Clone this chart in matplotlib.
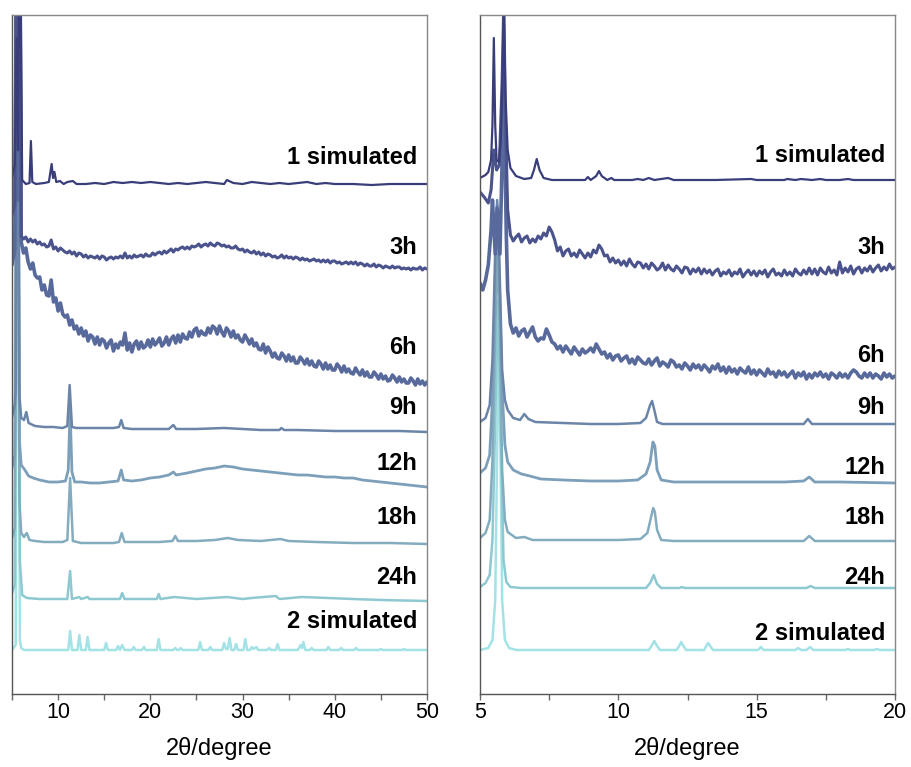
import matplotlib
matplotlib.use("Agg")
import numpy as np
import matplotlib.pyplot as plt
from matplotlib.ticker import MultipleLocator

plt.rcParams['font.family'] = ['Liberation Sans', 'DejaVu Sans']

labels = ["1 simulated", "3h", "6h", "9h", "12h", "18h", "24h", "2 simulated"]
colors = ["#393e7a", "#4a538c", "#58699b", "#6b85a9", "#7c9fba", "#84acbf", "#8ec9d1", "#a3e3e6"]
widths = [1.6, 2.2, 2.6, 1.8, 2.0, 1.8, 1.8, 1.8]

# ---------------- LEFT PANEL (2theta 5-50), stacked intensity (a.u.) ----------------
L1_x = [5.0, 5.3, 5.5, 5.65, 5.85, 6.1, 6.5, 6.9, 7.05, 7.2, 7.6, 8.5, 9.0, 9.3, 9.45, 9.6, 9.8, 10.2, 10.6,
        11.0, 11.6, 12, 13, 14, 15, 16, 17, 18, 19, 20, 21, 22, 23, 24, 25, 26, 27, 28, 28.3, 29, 30, 31, 32,
        33, 34, 35, 36, 37, 38, 39, 40, 42, 44, 46, 48, 50]
L1_y = [516, 529, 656, 544, 800, 514, 510, 511, 553, 512, 510, 511, 512, 530, 516, 522, 512, 513, 510,
        512, 513, 510, 510, 511, 510, 512, 511, 512, 511, 512, 511, 510, 511, 510, 511, 512, 511, 510, 514, 511,
        510, 512, 511, 510, 511, 510, 511, 512, 510, 511, 510, 510, 509, 510, 510, 510]

# 3h (left): peak region, then readings every 0.25 deg from 6.0 to 49.75, then 50
L3_head_x = [5.0, 5.3, 5.5, 5.7, 5.85]
L3_head_y = [479, 489, 800, 544, 800]
L3_rows = [
    [458, 455, 457, 452], [455, 452, 454, 450], [452, 449, 450, 447], [448, 454, 445, 447],
    [443, 446, 444, 442], [441, 443, 440, 442], [438, 441, 440, 437], [439, 436, 438, 437],
    [436, 438, 435, 438], [437, 434, 436, 437], [435, 437, 436, 438], [436, 441, 436, 438],
    [436, 439, 437, 438], [439, 437, 440, 438], [438, 441, 439, 441], [442, 440, 443, 441],
    [443, 445, 442, 445], [444, 446, 447, 445], [447, 445, 448, 447], [448, 450, 447, 449],
    [450, 448, 451, 449], [448, 451, 450, 448], [449, 447, 448, 446], [446, 448, 445, 444],
    [445, 442, 444, 442], [441, 443, 440, 442], [439, 441, 438, 440], [439, 437, 438, 436],
    [437, 439, 436, 438], [436, 437, 435, 437], [436, 434, 436, 434], [435, 433, 434, 435],
    [433, 434, 432, 434], [432, 434, 431, 433], [433, 431, 432, 430], [431, 432, 430, 432],
    [430, 432, 429, 431], [430, 428, 430, 428], [428, 430, 427, 429], [428, 426, 428, 427],
    [426, 428, 426, 427], [427, 425, 426, 425], [426, 424, 426, 425], [425, 427, 424, 426]]
L3_tail_y = 425

# 6h (left)
L6_head_x = [5.0, 5.3, 5.5, 5.7, 5.85]
L6_head_y = [429, 444, 800, 494, 800]
L6_rows = [
    [452, 441, 446, 432], [425, 431, 419, 416], [417, 404, 409, 399], [398, 414, 392, 396],
    [383, 391, 380, 377], [379, 369, 374, 365], [368, 360, 366, 358], [363, 353, 359, 357],
    [350, 357, 349, 355], [353, 346, 351, 354], [343, 350, 346, 352], [349, 361, 344, 351],
    [342, 350, 353, 345], [352, 346, 348, 354], [347, 355, 349, 352], [356, 348, 351, 357],
    [349, 355, 358, 351], [359, 352, 360, 356], [355, 362, 357, 364], [366, 358, 363, 360],
    [359, 366, 361, 368], [366, 360, 368, 362], [358, 366, 363, 357], [363, 356, 359, 354],
    [352, 359, 355, 350], [355, 348, 351, 345], [344, 350, 341, 347], [343, 337, 341, 336],
    [335, 341, 338, 333], [339, 333, 337, 331], [331, 337, 334, 330], [335, 329, 333, 328],
    [327, 333, 330, 325], [331, 325, 329, 324], [324, 330, 327, 322], [328, 322, 325, 321],
    [320, 326, 322, 319], [324, 318, 322, 317], [317, 322, 319, 315], [320, 315, 318, 313],
    [314, 319, 316, 312], [317, 312, 315, 311], [311, 316, 313, 309], [315, 310, 313, 309]]
L6_tail_y = 312

L9_x = [5.0, 5.3, 5.4, 5.6, 5.8, 6.0, 6.3, 6.55, 6.8, 7.5, 8.5, 9.5, 10.5, 11.0, 11.25, 11.5, 12, 14, 16,
        16.6, 16.85, 17.1, 18, 20, 22, 22.5, 22.8, 25, 28, 30, 32, 34, 34.2, 34.5, 36, 40, 44, 47, 50]
L9_y = [277, 289, 304, 800, 299, 276, 274, 282, 271, 268, 267, 267, 266, 268, 309, 267, 266, 266, 266,
        267, 274, 266, 265, 265, 265, 269, 265, 265, 266, 265, 264, 264, 266, 264, 264, 263, 263, 263, 262]

L12_x = [5.0, 5.3, 5.6, 5.8, 6.0, 6.4, 6.8, 7.3, 8, 9, 10, 10.8, 11.1, 11.3, 11.5, 11.8, 12.5, 13.5, 14.5,
         15.5, 16.5, 16.85, 17.1, 18, 19, 20, 21, 22, 22.5, 22.8, 24, 25, 26, 27, 28, 29, 30, 31, 32, 33, 34,
         35, 36, 37, 38, 39, 40, 41, 42, 43, 44, 45, 46, 47, 48, 49, 50]
L12_y = [226, 239, 800, 254, 229, 224, 218, 216, 214, 212, 212, 213, 224, 284, 222, 212, 212, 211, 211,
         212, 213, 224, 214, 213, 214, 216, 217, 219, 222, 219, 221, 223, 225, 226, 228, 227, 225, 224, 223,
         222, 221, 220, 219, 219, 218, 217, 217, 216, 216, 214, 213, 212, 211, 210, 209, 208, 207]

L18_x = [5.0, 5.3, 5.6, 5.8, 6.0, 6.3, 6.6, 6.9, 7.5, 8.5, 9.5, 10.5, 11.0, 11.3, 11.6, 12.5, 14, 16, 16.6,
         16.9, 17.2, 19, 21, 22.4, 22.7, 23, 25, 27, 28.4, 29.5, 32, 34.1, 35, 38, 42, 46, 50]
L18_y = [156, 166, 800, 194, 161, 157, 161, 154, 153, 152, 152, 152, 154, 216, 153, 151, 151, 151, 152,
         161, 152, 152, 152, 153, 158, 153, 153, 154, 156, 154, 153, 155, 153, 152, 151, 151, 150]

L24_x = [5.0, 5.3, 5.65, 5.85, 6.1, 6.6, 8, 10, 11.0, 11.3, 11.5, 12.3, 12.5, 13.2, 13.4, 16.7, 16.95, 17.2,
         20.7, 20.9, 21.1, 22.6, 25, 28.3, 30, 31, 33.6, 34, 36.4, 39.3, 42, 45, 50]
L24_y = [101, 109, 800, 134, 99, 96, 95, 95, 95, 123, 95, 97, 95, 97, 95, 95, 101, 95,
         95, 100, 95, 97, 95, 97, 95, 96, 98, 95, 97, 96, 95, 94, 93]

L2_x = [5.0, 5.4, 5.6, 5.85, 6.0, 6.3, 11.1, 11.3, 11.5, 12.1, 12.3, 12.5, 13.0, 13.2, 13.4, 15.0, 15.2, 15.4,
        16.3, 16.5, 16.7, 16.95, 17.2, 18.0, 18.2, 18.4, 19.1, 19.3, 19.5, 20.7, 20.9, 21.1, 22.5, 22.7, 22.9,
        23.1, 23.3, 23.5, 25.2, 25.4, 25.6, 26.3, 26.5, 26.7, 27.8, 28.0, 28.2, 28.4, 28.6, 28.8, 29.1, 29.3,
        29.5, 30.1, 30.3, 30.5, 30.8, 31.0, 31.2, 31.5, 31.7, 32.7, 32.9, 33.1, 33.6, 33.8, 34.0, 36.0, 36.3,
        36.45, 36.6, 36.8, 37.3, 37.5, 37.7, 39.1, 39.3, 39.5, 40.5, 40.7, 40.9, 42.1, 42.3, 42.5, 44.8, 45.0,
        45.2, 47.3, 47.5, 47.7, 50]
L2_y = [44, 49, 800, 54, 46, 44, 44, 63, 44, 44, 59, 44, 44, 57, 44, 44, 51, 44,
        44, 48, 44, 49, 44, 44, 47, 44, 44, 47, 44, 44, 55, 44, 44, 46, 44,
        44, 46, 44, 44, 52, 44, 44, 47, 44, 44, 51, 45, 45, 56, 44, 44, 50,
        44, 44, 55, 44, 44, 47, 45, 47, 44, 44, 46, 44, 44, 50, 44, 44, 49,
        46, 52, 44, 44, 46, 44, 44, 47, 44, 44, 46, 44, 44, 46, 44, 44, 45,
        44, 44, 45, 44, 44]

# ---------------- RIGHT PANEL (2theta 5-20), stacked intensity (a.u.) ----------------
R1_x = [5.0, 5.2, 5.3, 5.4, 5.45, 5.5, 5.55, 5.6, 5.68, 5.75, 5.8, 5.86, 5.92, 6.0, 6.1, 6.3, 6.6, 6.85, 6.95,
        7.05, 7.15, 7.3, 7.6, 8.0, 8.8, 8.9, 9.0, 9.2, 9.3, 9.4, 9.6, 9.75, 9.85, 10.5, 10.7, 10.9, 11.1, 11.3,
        11.8, 12.0, 13.5, 14.8, 15.0, 16.0, 16.1, 16.4, 16.6, 17.0, 17.3, 17.5, 18.0, 18.3, 18.5, 19.5, 20]
R1_y = [516, 519, 522, 534, 569, 656, 569, 534, 532, 554, 599, 690, 599, 544, 526, 518, 515, 516, 524,
        535, 524, 516, 514, 514, 514, 517, 514, 518, 523, 518, 514, 516, 514, 514, 515, 514, 516, 514,
        516, 514, 514, 515, 514, 514, 515, 514, 515, 514, 515, 514, 514, 515, 514, 514, 514]

# 3h (right): peak region, then readings every 0.1 deg from 6.0 to 19.9, then 20
R3_head_x = [5.0, 5.15, 5.3, 5.4, 5.5, 5.6, 5.7, 5.8, 5.86, 5.92]
R3_head_y = [502, 497, 491, 504, 544, 524, 529, 614, 690, 574]
R3_rows = [
    [484, 459, 453, 457, 460, 452, 456, 458, 451, 455],
    [452, 458, 455, 461, 458, 467, 462, 454, 443, 447],
    [438, 443, 445, 438, 441, 437, 444, 440, 436, 441],
    [437, 444, 441, 449, 445, 438, 439, 432, 436, 431],
    [434, 429, 433, 428, 435, 430, 427, 432, 431, 426],
    [430, 425, 431, 428, 424, 426, 431, 424, 429, 425],
    [423, 428, 425, 421, 427, 426, 420, 425, 422, 426],
    [420, 425, 421, 424, 419, 423, 425, 418, 422, 420],
    [424, 418, 422, 420, 425, 417, 421, 424, 419, 423],
    [418, 423, 420, 424, 417, 422, 425, 419, 421, 418],
    [424, 419, 422, 418, 425, 421, 419, 424, 420, 426],
    [420, 425, 419, 426, 422, 420, 427, 421, 424, 419],
    [432, 421, 426, 422, 428, 420, 425, 427, 421, 426],
    [423, 428, 422, 426, 429, 423, 427, 424, 430, 425]]
R3_tail_y = 427

# 6h (right)
R6_head_x = [5.0, 5.1, 5.2, 5.3, 5.4, 5.45, 5.55, 5.62, 5.72, 5.86, 5.95]
R6_head_y = [411, 404, 414, 429, 464, 494, 440, 486, 440, 604, 460]
R6_rows = [
    [404, 370, 361, 366, 358, 363, 365, 357, 362, 367],
    [357, 353, 356, 355, 365, 359, 352, 350, 345, 348],
    [342, 348, 344, 340, 347, 343, 339, 345, 341, 343],
    [346, 342, 350, 345, 340, 342, 336, 340, 334, 338],
    [339, 333, 336, 338, 331, 335, 330, 337, 334, 331],
    [330, 335, 329, 333, 336, 328, 332, 330, 327, 334],
    [332, 327, 329, 325, 331, 328, 324, 330, 326, 329],
    [324, 329, 326, 322, 328, 325, 330, 323, 327, 321],
    [327, 322, 325, 320, 326, 323, 321, 327, 320, 324],
    [319, 324, 321, 318, 325, 320, 322, 317, 323, 319],
    [322, 317, 320, 323, 316, 321, 318, 322, 315, 320],
    [316, 321, 318, 322, 317, 320, 315, 321, 319, 316],
    [321, 317, 320, 316, 321, 324, 322, 318, 316, 321],
    [317, 321, 316, 320, 318, 315, 321, 317, 320, 316]]
R6_tail_y = 318

R9_x = [5.0, 5.2, 5.35, 5.45, 5.55, 5.62, 5.7, 5.8, 5.9, 6.0, 6.2, 6.45, 6.6, 6.75, 7.0, 8.0, 9.0, 10.0, 10.8,
        11.0, 11.15, 11.22, 11.3, 11.4, 11.6, 13, 15, 16.7, 16.85, 17.0, 18, 20]
R9_y = [272, 276, 289, 334, 444, 494, 434, 324, 294, 284, 276, 274, 280, 275, 272, 271, 270, 270, 271,
        276, 289, 293, 284, 272, 270, 270, 270, 270, 275, 270, 270, 270]

R12_x = [5.0, 5.2, 5.35, 5.45, 5.55, 5.62, 5.7, 5.8, 5.9, 6.0, 6.2, 6.5, 6.8, 7.2, 8, 9, 10, 10.7, 11.0,
         11.15, 11.25, 11.32, 11.4, 11.55, 12, 14, 16, 16.7, 16.9, 17.1, 18, 20]
R12_y = [221, 226, 239, 294, 414, 489, 414, 304, 249, 232, 224, 220, 218, 215, 214, 213, 213, 214, 220,
         232, 252, 248, 224, 214, 212, 212, 212, 213, 217, 212, 212, 211]

R18_x = [5.0, 5.2, 5.35, 5.45, 5.55, 5.65, 5.72, 5.8, 5.9, 6.0, 6.3, 6.6, 6.9, 8, 10, 10.8, 11.05, 11.2,
         11.26, 11.32, 11.4, 11.55, 12, 14, 16.7, 16.9, 17.1, 18, 20]
R18_y = [156, 161, 174, 234, 364, 444, 364, 224, 174, 162, 156, 157, 154, 154, 154, 155, 161, 179,
         186, 182, 164, 154, 153, 153, 153, 158, 153, 153, 153]

R24_x = [5.0, 5.2, 5.35, 5.45, 5.55, 5.65, 5.75, 5.85, 5.95, 6.1, 6.5, 8, 10, 11.0, 11.15, 11.28, 11.4, 11.55,
         12.2, 12.3, 12.4, 13.2, 16.8, 16.95, 17.1, 20]
R24_y = [107, 111, 119, 154, 274, 394, 264, 134, 112, 107, 106, 106, 106, 106, 111, 119, 110, 106,
         106, 107, 106, 106, 106, 108, 106, 106]

R2_x = [5.0, 5.3, 5.45, 5.55, 5.62, 5.68, 5.74, 5.8, 5.9, 6.05, 6.3, 11.1, 11.22, 11.3, 11.38, 11.5, 12.1,
        12.2, 12.27, 12.35, 12.45, 13.1, 13.18, 13.25, 13.32, 13.42, 15.05, 15.15, 15.25, 16.4, 16.5, 16.6,
        16.8, 16.93, 17.05, 18.2, 18.3, 18.4, 19.25, 19.35, 19.45, 20]
R2_y = [44, 46, 54, 94, 244, 354, 244, 94, 54, 46, 44, 44, 49, 53, 49, 44, 44,
        48, 52, 48, 44, 44, 48, 51, 48, 44, 44, 47, 44, 44, 46, 44,
        44, 47, 44, 44, 45, 44, 44, 45, 44, 44]

left_label_y = [537, 446, 346, 286, 231, 176, 117, 72]
right_label_y = [538, 446, 338, 287, 227, 176, 117, 61]


def assemble(head_x, head_y, rows, tail_y, start, stop, step):
    n = sum(len(r) for r in rows)
    grid = np.linspace(start, start + step * (n - 1), n)
    xs = list(head_x) + list(grid) + [stop]
    ys = list(head_y) + [v for r in rows for v in r] + [tail_y]
    assert len(xs) == len(ys)
    return xs, ys


L3_x, L3_y = assemble(L3_head_x, L3_head_y, L3_rows, L3_tail_y, 6.0, 50, 0.25)
L6_x, L6_y = assemble(L6_head_x, L6_head_y, L6_rows, L6_tail_y, 6.0, 50, 0.25)
R3_x, R3_y = assemble(R3_head_x, R3_head_y, R3_rows, R3_tail_y, 6.0, 20, 0.1)
R6_x, R6_y = assemble(R6_head_x, R6_head_y, R6_rows, R6_tail_y, 6.0, 20, 0.1)

left_series = [(L1_x, L1_y), (L3_x, L3_y), (L6_x, L6_y), (L9_x, L9_y),
               (L12_x, L12_y), (L18_x, L18_y), (L24_x, L24_y), (L2_x, L2_y)]
right_series = [(R1_x, R1_y), (R3_x, R3_y), (R6_x, R6_y), (R9_x, R9_y),
                (R12_x, R12_y), (R18_x, R18_y), (R24_x, R24_y), (R2_x, R2_y)]

W, H = 911, 767
fig = plt.figure(figsize=(W / 100, H / 100), dpi=100)
axL = fig.add_axes([12 / W, (H - 694) / H, 415 / W, 679 / H])
axR = fig.add_axes([480 / W, (H - 694) / H, 415 / W, 679 / H])


def setup(ax, series, label_y, xlim, major, label_step):
    for (xs, ys), c, lw in reversed(list(zip(series, colors, widths))):
        ax.plot(xs, ys, color=c, lw=lw, solid_joinstyle='round', solid_capstyle='round')
    for lab, yy in zip(labels, label_y):
        ax.text(0.976, yy, lab, transform=ax.get_yaxis_transform(), ha='right', va='center',
                fontsize=17, fontweight='bold', color='black')
    ax.set_xlim(*xlim)
    ax.set_ylim(0, 679)
    ax.set_yticks([])
    ax.xaxis.set_major_locator(MultipleLocator(major))
    ticks = [t for t in ax.get_xticks() if xlim[0] - 1e-9 <= t <= xlim[1] + 1e-9]
    ax.set_xticks(ticks)
    ax.set_xticklabels([(f"{t:g}" if abs(t / label_step - round(t / label_step)) < 1e-6 else "")
                        for t in ticks])
    ax.tick_params(axis='x', direction='out', length=4, width=1, color='#666666',
                   labelsize=15.5, pad=2)
    for s in ax.spines.values():
        s.set_color('#888888')
        s.set_linewidth(1.0)
    ax.spines['bottom'].set_color('#555555')
    ax.spines['left'].set_color('#555555')
    ax.set_xlabel('2θ/degree', fontsize=17, labelpad=10)


setup(axL, left_series, left_label_y, (5, 50), 5, 10)
setup(axR, right_series, right_label_y, (5, 20), 2.5, 5)

fig.savefig('out.png', dpi=100)
